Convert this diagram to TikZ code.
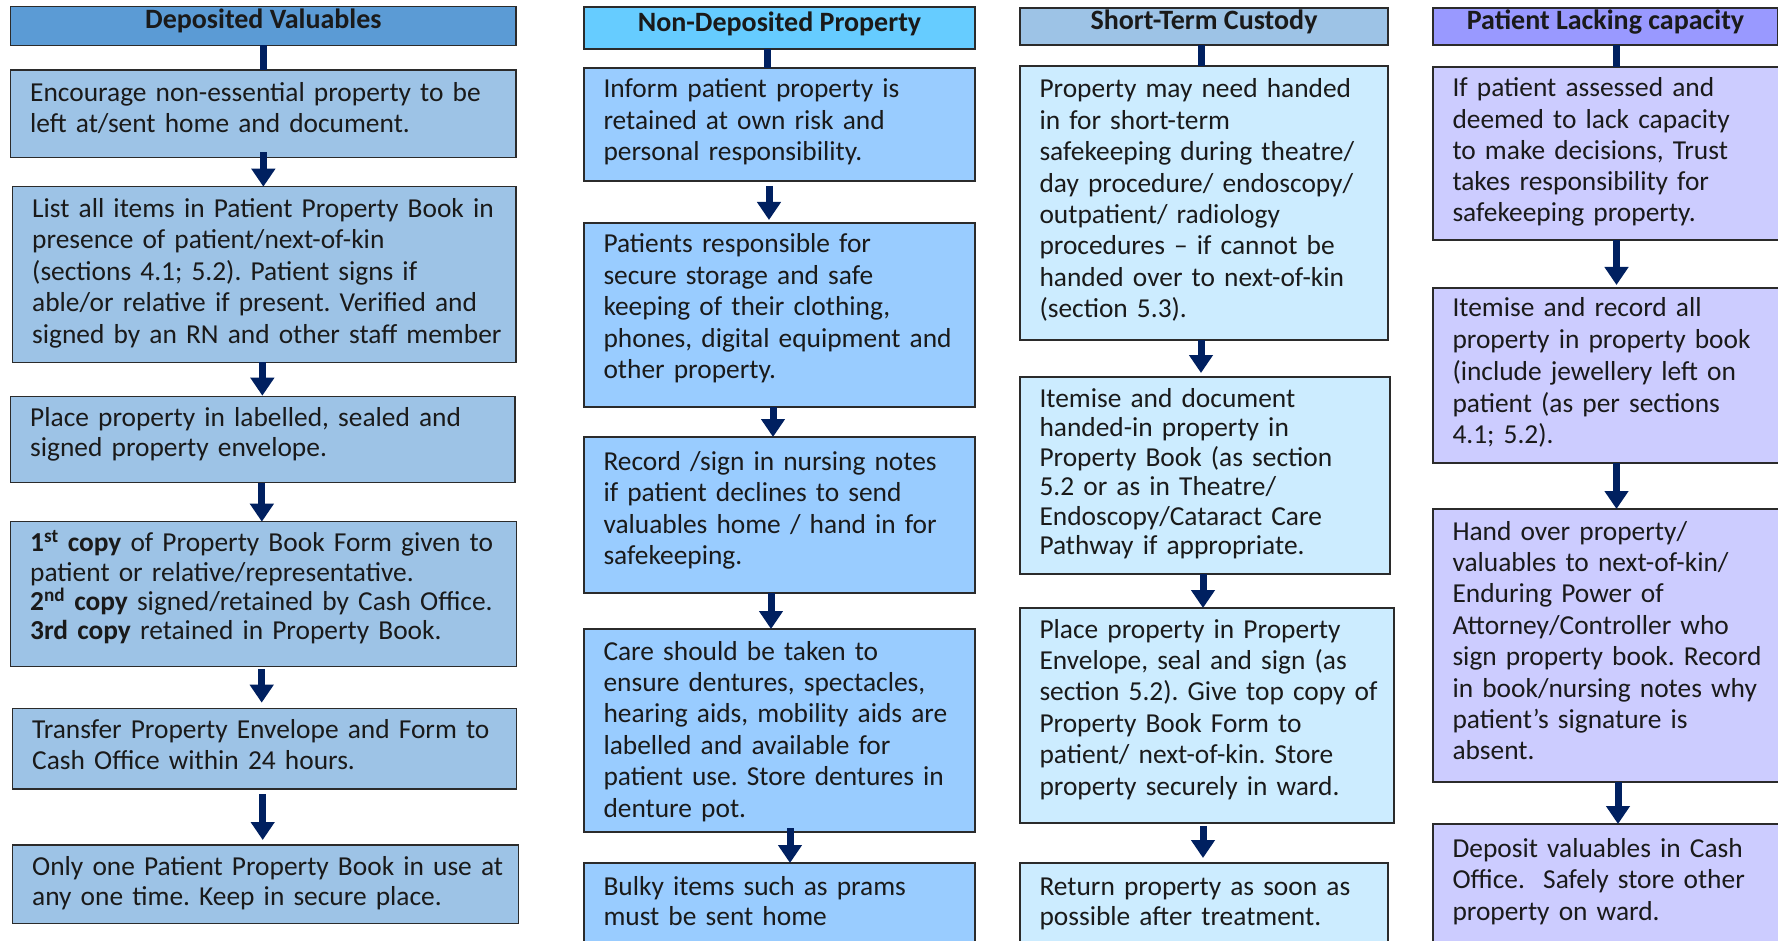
\documentclass[tikz,border=0pt]{standalone}
\usepackage{fontspec}
\setmainfont{Carlito}
\usetikzlibrary{arrows.meta,calc}
\frenchspacing
\definecolor{hA}{HTML}{5B9BD5}
\definecolor{bA}{HTML}{9DC3E6}
\definecolor{hB}{HTML}{66CCFF}
\definecolor{bB}{HTML}{99CCFF}
\definecolor{hC}{HTML}{9DC3E6}
\definecolor{bC}{HTML}{CCECFF}
\definecolor{hD}{HTML}{9999FF}
\definecolor{bD}{HTML}{CCCCFF}
\definecolor{navy}{HTML}{002060}
\definecolor{edge}{HTML}{2B2B2B}
\definecolor{ink}{HTML}{1A1A1A}
\tikzset{
  boxst/.style={draw=edge, line width=1.3pt, inner sep=0pt, outer sep=0pt, anchor=north west},
  txt/.style={inner sep=0pt, outer sep=0pt, anchor=base west, text width=600pt, align=left, text=ink},
  arr/.style={draw=navy, line width=7pt, -{Triangle[width=23pt,length=18pt]}},
  stem/.style={draw=navy, line width=7pt},
  hdtxt/.style={font=\bfseries\fontsize{28}{30}\selectfont, inner sep=0pt, anchor=base, text=ink}
}
\newcommand\fbx[9]{%
  \node[boxst, fill=#6, minimum width={#4-#2}, minimum height={#5-#3}] (#1) at (#2,#3) {};
  \node[txt, font=\frenchspacing\fontsize{27.4}{#8}\selectfont] (#1t) at ([shift={(19.5,#7)}]#1.north west) {#9};
}
\newcommand\hbx[8]{%
  \node[boxst, fill=#6, minimum width={#4-#2}, minimum height={#5-#3}] (#1) at (#2,#3) {};
  \node[hdtxt] (#1t) at ([shift={(0,#7)}]#1.north) {#8};
}
\begin{document}
\begin{tikzpicture}[x=1pt,y=-1pt]
\clip (0,0) rectangle (1778,941);
\fill[white] (0,0) rectangle (1778,941);
% ---------- Column 1
\hbx{h1}{10.7}{6.7}{516}{45.3}{hA}{21.6}{Deposited Valuables}
\fbx{a1}{10.7}{70}{516}{157.3}{bA}{31.7}{30.6}{Encourage non-essential property to be\\left at/sent home and document.}
\fbx{a2}{12.7}{186.7}{516}{362.3}{bA}{30.6}{31.5}{List all items in Patient Property Book in\\presence of patient/next-of-kin\\(sections 4.1; 5.2). Patient signs if\\able/or relative if present. Verified and\\signed by an RN and other staff member}
\fbx{a3}{10.7}{396.7}{515}{482.7}{bA}{30}{30}{Place property in labelled, sealed and\\signed property envelope.}
\fbx{a4}{10.7}{521.7}{516.7}{666.7}{bA}{30}{29.4}{\textbf{1\textsuperscript{st} copy} of Property Book Form given to\\patient or relative/representative.\\\textbf{2\textsuperscript{nd} copy} signed/retained by Cash Office.\\\textbf{3rd copy} retained in Property Book.}
\fbx{a5}{12.7}{708.3}{516.7}{789}{bA}{30}{30.7}{Transfer Property Envelope and Form to\\Cash Office within 24 hours.}
\fbx{a6}{12.7}{845}{518.3}{923.3}{bA}{30}{30}{Only one Patient Property Book in use at\\any one time. Keep in secure place.}
% ---------- Column 2
\hbx{h2}{584}{7}{975}{49}{hB}{25}{Non-Deposited Property}
\fbx{b1}{584}{68}{975}{181}{bB}{30}{31.5}{Inform patient property is\\retained at own risk and\\personal responsibility.}
\fbx{b2}{584}{223}{975}{407}{bB}{30}{31.5}{Patients responsible for\\secure storage and safe\\keeping of their clothing,\\phones, digital equipment and\\other property.}
\fbx{b3}{584}{437}{975}{593}{bB}{33}{31.5}{Record /sign in nursing notes\\if patient declines to send\\valuables home / hand in for\\safekeeping.}
\fbx{b4}{584}{629}{975}{832}{bB}{31}{31.4}{Care should be taken to\\ensure dentures, spectacles,\\hearing aids, mobility aids are\\labelled and available for\\patient use. Store dentures in\\denture pot.}
\fbx{b5}{584}{863}{975}{960}{bB}{32}{30}{Bulky items such as prams\\must be sent home}
% ---------- Column 3
\hbx{h3}{1020}{8}{1388}{45}{hC}{22}{Short-Term Custody}
\fbx{c1}{1020}{66}{1388}{340}{bC}{32}{31.4}{Property may need handed\\in for short-term\\safekeeping during theatre/\\day procedure/ endoscopy/\\outpatient/ radiology\\procedures -- if cannot be\\handed over to next-of-kin\\(section 5.3).}
\fbx{c2}{1020}{377}{1390}{574}{bC}{30}{29.5}{Itemise and document\\handed-in property in\\Property Book (as section\\5.2 or as in Theatre/\\Endoscopy/Cataract Care\\Pathway if appropriate.}
\fbx{c3}{1020}{608}{1394}{823}{bC}{30}{31.4}{Place property in Property\\Envelope, seal and sign (as\\section 5.2). Give top copy of\\Property Book Form to\\patient/ next-of-kin. Store\\property securely in ward.}
\fbx{c4}{1020}{863}{1388}{960}{bC}{32}{30}{Return property as soon as\\possible after treatment.}
% ---------- Column 4
\hbx{h4}{1433}{8}{1778}{45}{hD}{22}{Patient Lacking capacity}
\fbx{d1}{1433}{67}{1800}{240}{bD}{30}{31.2}{If patient assessed and\\deemed to lack capacity\\to make decisions, Trust\\takes responsibility for\\safekeeping property.}
\fbx{d2}{1433}{288}{1800}{463}{bD}{29}{31.7}{Itemise and record all\\property in property book\\(include jewellery left on\\patient (as per sections\\4.1; 5.2).}
\fbx{d3}{1433}{509}{1800}{782}{bD}{31}{31.4}{Hand over property/\\valuables to next-of-kin/\\Enduring Power of\\Attorney/Controller who\\sign property book. Record\\in book/nursing notes why\\patient’s signature is\\absent.}
\fbx{d4}{1433}{824}{1800}{960}{bD}{33}{31.7}{Deposit valuables in Cash\\Office.\ \ Safely store other\\property on ward.}
% ---------- Connectors column 1
\draw[stem] (h1.south) -- (h1.south |- a1.north);
\draw[arr, shorten <=-5pt] (a1.south) -- (a1.south |- a2.north);
\draw[arr, shorten >=1pt] ([xshift=-2pt]a2.south) -- ([xshift=-2pt]a2.south |- a3.north);
\draw[arr] ([xshift=-1pt]a3.south) -- ([xshift=-1pt]a3.south |- a4.north);
\draw[arr, shorten <=2.6pt, shorten >=5.6pt] ([xshift=-2pt]a4.south) -- ([xshift=-2pt]a4.south |- a5.north);
\draw[arr, shorten <=5.3pt, shorten >=5pt] ([xshift=-2pt]a5.south) -- ([xshift=-2pt]a5.south |- a6.north);
% ---------- Connectors column 2
\draw[stem] ([xshift=-12.5pt]h2.south) -- ([xshift=-12.5pt]h2.south |- b1.north);
\draw[arr, shorten <=5pt, shorten >=3pt] ([xshift=-10.5pt]b1.south) -- ([xshift=-10.5pt]b1.south |- b2.north);
\draw[arr] ([xshift=-6.5pt]b2.south) -- ([xshift=-6.5pt]b2.south |- b3.north);
\draw[arr] ([xshift=-8.5pt]b3.south) -- ([xshift=-8.5pt]b3.south |- b4.north);
\draw[arr, shorten <=-4pt] ([xshift=10.5pt]b4.south) -- ([xshift=10.5pt]b4.south |- b5.north);
% ---------- Connectors column 3
\draw[stem] ([xshift=-3pt]h3.south) -- ([xshift=-3pt]h3.south |- c1.north);
\draw[arr, shorten >=4pt] ([xshift=-3pt]c1.south) -- ([xshift=-3pt]c1.south |- c2.north);
\draw[arr] ([xshift=-2pt]c2.south) -- ([xshift=-2pt]c2.south |- c3.north);
\draw[arr, shorten <=3pt, shorten >=5pt] ([xshift=-4pt]c3.south) -- ([xshift=-4pt]c3.south |- c4.north);
% ---------- Connectors column 4
\draw[stem] (d1.north |- h4.south) -- (d1.north);
\draw[arr, shorten >=3pt] (d1.south) -- (d1.south |- d2.north);
\draw[arr] (d2.south) -- (d2.south |- d3.north);
\draw[arr] ([xshift=1.5pt]d3.south) -- ([xshift=1.5pt]d3.south |- d4.north);
\end{tikzpicture}
\end{document}
